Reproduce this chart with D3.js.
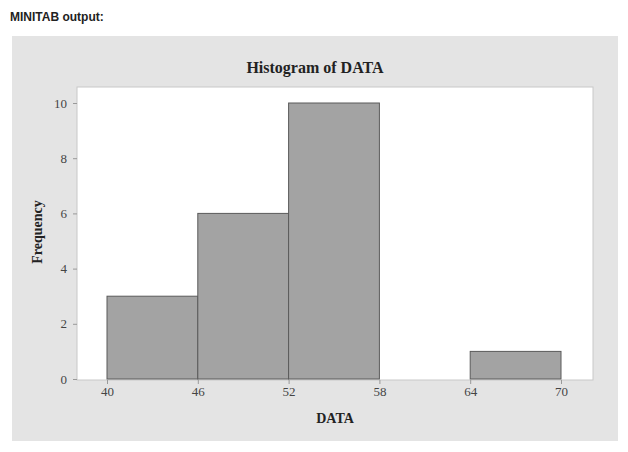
<!DOCTYPE html>
<html><head><meta charset="utf-8">
<script src="https://cdn.jsdelivr.net/npm/d3@7"></script>
<style>
body{margin:0;background:#fff;}
svg{display:block;}
</style></head>
<body>
<svg id="c" width="628" height="452"></svg>
<script>
const binStarts = [40, 46, 52, 58, 64];
const binEnds   = [46, 52, 58, 64, 70];
const counts    = [3, 6, 10, 0, 1];
const xTicks    = [40, 46, 52, 58, 64, 70];
const yTicks    = [0, 2, 4, 6, 8, 10];

const svg = d3.select("#c");
svg.append("text").attr("x", 10).attr("y", 21)
  .attr("font-family", "Liberation Sans, Arial, sans-serif").attr("font-weight", "bold")
  .attr("font-size", 12).attr("fill", "#222").text("MINITAB output:");

svg.append("rect").attr("x", 12).attr("y", 36).attr("width", 606).attr("height", 405)
  .attr("fill", "#e4e4e4");

const plot = {l: 77, t: 87, r: 593, b: 380};
svg.append("rect").attr("x", plot.l).attr("y", plot.t).attr("width", plot.r - plot.l)
  .attr("height", plot.b - plot.t).attr("fill", "#fff").attr("stroke", "#c8c8c8");

const x = d3.scaleLinear().domain([40, 70]).range([107, 561]);
const y = d3.scaleLinear().domain([0, 10]).range([379, 103]);

const bars = binStarts.map((s, i) => ({s, e: binEnds[i], c: counts[i]})).filter(d => d.c > 0);
svg.append("g").selectAll("rect").data(bars).join("rect")
  .attr("x", d => x(d.s)).attr("y", d => y(d.c))
  .attr("width", d => x(d.e) - x(d.s)).attr("height", d => y(0) - y(d.c))
  .attr("fill", "#a3a3a3").attr("stroke", "#5a5a5a").attr("stroke-width", 1);

const font = "Liberation Serif, Times New Roman, serif";
const xa = svg.append("g").attr("transform", `translate(0,${plot.b})`)
  .call(d3.axisBottom(x).tickValues(xTicks).tickSize(4).tickPadding(3).tickFormat(d3.format("d")));
xa.select(".domain").remove();
const ya = svg.append("g").attr("transform", `translate(${plot.l},0)`)
  .call(d3.axisLeft(y).tickValues(yTicks).tickSize(4).tickPadding(6).tickFormat(d3.format("d")));
ya.select(".domain").remove();
svg.selectAll(".tick line").attr("stroke", "#999");
svg.selectAll(".tick text").style("font-family", font).style("font-size", "13px").style("fill", "#444");

svg.append("text").attr("x", 315).attr("y", 73).attr("text-anchor", "middle")
  .attr("font-family", font).attr("font-weight", "bold").attr("font-size", 16)
  .attr("fill", "#222").text("Histogram of DATA");
svg.append("text").attr("x", 335).attr("y", 423).attr("text-anchor", "middle")
  .attr("font-family", font).attr("font-weight", "bold").attr("font-size", 14)
  .attr("fill", "#222").text("DATA");
svg.append("text").attr("transform", "translate(42,232) rotate(-90)").attr("text-anchor", "middle")
  .attr("font-family", font).attr("font-weight", "bold").attr("font-size", 14)
  .attr("fill", "#222").text("Frequency");
</script>
</body></html>
